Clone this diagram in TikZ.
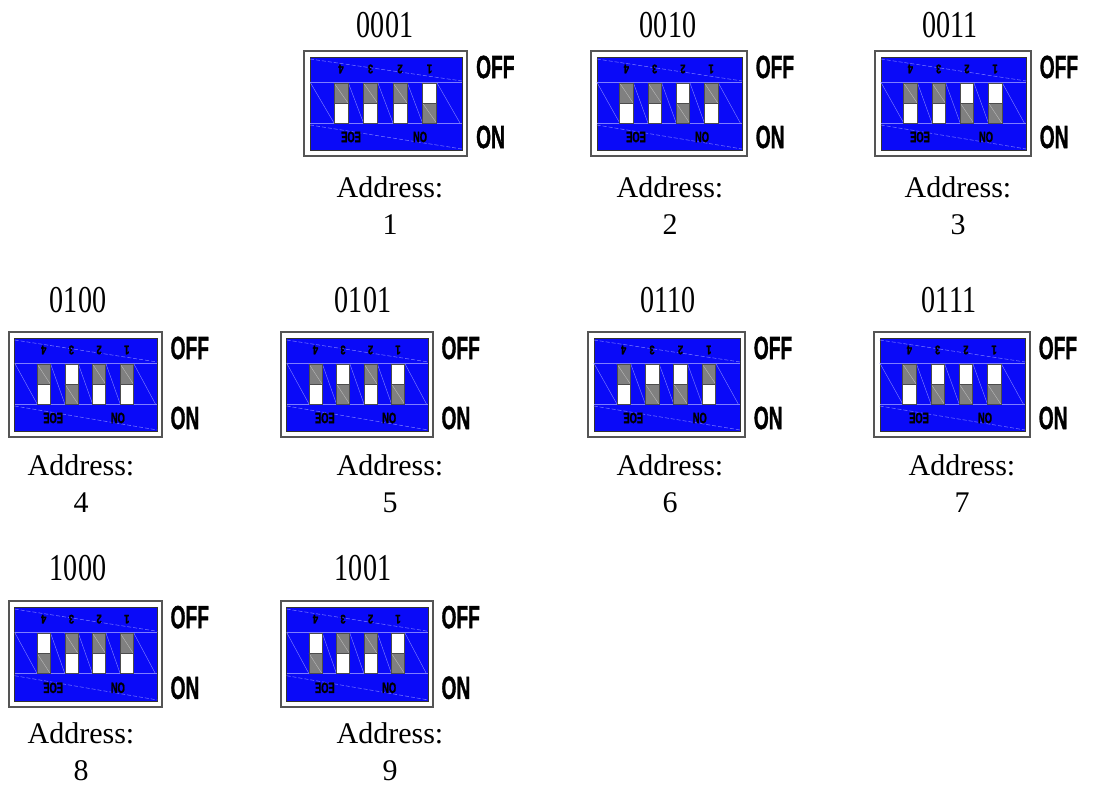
\documentclass[tikz,border=0pt]{standalone}
\usepackage{fontspec}
\setmainfont{Liberation Serif}
\newfontfamily\dipsans{Liberation Sans}[BoldFeatures={FakeBold=1.6}]

\definecolor{dipblue}{RGB}{10,10,248}
\definecolor{dipgray}{RGB}{128,128,128}
\definecolor{dipline}{RGB}{125,125,255}
\definecolor{dipframe}{RGB}{85,85,85}

\tikzset{
  frame/.style={draw=dipframe, line width=1.1pt, fill=white},
  panel/.style={draw=black!80, line width=0.5pt, fill=dipblue},
  bandline/.style={draw=dipline, line width=0.45pt},
  diagline/.style={draw=dipline, line width=0.5pt, dash pattern=on 4pt off 2pt},
  lever/.style={draw=black!70, line width=0.5pt},
  leverhatch/.style={draw=gray!55!white, line width=0.4pt},
  swnum/.style={font=\dipsans\bfseries\fontsize{12.5}{12.5}\selectfont, rotate=180, xscale=0.75, inner sep=0pt},
  swmark/.style={font=\dipsans\bfseries\fontsize{15}{15}\selectfont, rotate=180, xscale=0.62, inner sep=0pt},
  statelbl/.style={font=\dipsans\bfseries\fontsize{32}{32}\selectfont, xscale=0.6, anchor=west, inner sep=0pt},
  codelbl/.style={font=\fontsize{38}{38}\selectfont, xscale=0.74, inner sep=0pt},
  addrlbl/.style={font=\fontsize{30}{30}\selectfont, inner sep=0pt},
}

% One 4-way DIP switch: name, left, top, width, height, levers 4..1 (1 = up)
\newcommand{\dippanel}[9]{%
  \pgfmathsetmacro\dipsx{#4/163}%
  \pgfmathsetmacro\dipsy{#5/105}%
  \begin{scope}[shift={(#2,#3)}, x=\dipsx pt, y=-\dipsy pt]
    \path[frame] (0,0) rectangle (163,105);
    \path[panel] (6,6) rectangle (158,99);
    \draw[bandline] (6,31) -- (158,31) (6,72) -- (158,72);
    \draw[diagline] (6,8) -- (158,30) (6,74) -- (158,98);
    \draw[bandline] (6,31) -- (30,72) (44,31) -- (59.5,72) (73.5,31) -- (89,72)
                    (103,31) -- (118.5,72) (132.5,31) -- (156,72);
    \foreach \pos/\bit/\num in {30/#6/4, 59.5/#7/3, 89/#8/2, 118.5/#9/1} {
      \ifnum\bit=1
        \path[fill=white] (\pos,32) rectangle (\pos+14,52);
        \path[fill=dipgray] (\pos,52) rectangle (\pos+14,72);
        \draw[leverhatch] (\pos,52) -- (\pos+14,72);
      \else
        \path[fill=dipgray] (\pos,32) rectangle (\pos+14,52);
        \path[fill=white] (\pos,52) rectangle (\pos+14,72);
        \draw[leverhatch] (\pos,32) -- (\pos+14,52);
      \fi
      \draw[lever] (\pos,32) rectangle (\pos+14,72) (\pos,52) -- (\pos+14,52);
      \node[swnum] (#1-n\num) at (\pos+7,18) {\num};
    }
    \node[swmark] (#1-brand) at (47,86) {EOE};
    \node[swmark] (#1-mark) at (116,86) {ON};
    \node[statelbl] (#1-off) at (172,16) {OFF};
    \node[statelbl] (#1-on) at (172,86) {ON};
  \end{scope}}

% Code above a switch and its address below: name, code x, code y, code, address x, address y, address
\newcommand{\dipcaption}[7]{%
  \node[codelbl] (#1-code) at (#2,#3) {#4};
  \node[addrlbl] (#1-addr) at (#5,#6) {Address:};
  \node[addrlbl] (#1-num) at (#5,#6+38) {#7};}

\begin{document}
\begin{tikzpicture}[x=1pt, y=-1pt]
  \useasboundingbox (0,0) rectangle (1105,787);

  \dippanel{p1}{304}{51}{163}{105}{0}{0}{0}{1}
  \dippanel{p2}{591}{51}{156}{105}{0}{0}{1}{0}
  \dippanel{p3}{875}{51}{156}{105}{0}{0}{1}{1}
  \dippanel{p4}{9}{332}{153}{105}{0}{1}{0}{0}
  \dippanel{p5}{281}{332}{152}{105}{0}{1}{0}{1}
  \dippanel{p6}{588}{332}{157}{105}{0}{1}{1}{0}
  \dippanel{p7}{874}{332}{156}{105}{0}{1}{1}{1}
  \dippanel{p8}{9}{601}{153}{106}{1}{0}{0}{0}
  \dippanel{p9}{281}{601}{152}{106}{1}{0}{0}{1}

  \dipcaption{p1}{385}{25}{0001}{390}{187}{1}
  \dipcaption{p2}{668}{25}{0010}{670}{187}{2}
  \dipcaption{p3}{950}{25}{0011}{958}{187}{3}
  \dipcaption{p4}{78}{300}{0100}{81}{465}{4}
  \dipcaption{p5}{363}{300}{0101}{390}{465}{5}
  \dipcaption{p6}{668}{300}{0110}{670}{465}{6}
  \dipcaption{p7}{949}{300}{0111}{962}{465}{7}
  \dipcaption{p8}{78}{568}{1000}{81}{733}{8}
  \dipcaption{p9}{363}{568}{1001}{390}{733}{9}
\end{tikzpicture}
\end{document}
